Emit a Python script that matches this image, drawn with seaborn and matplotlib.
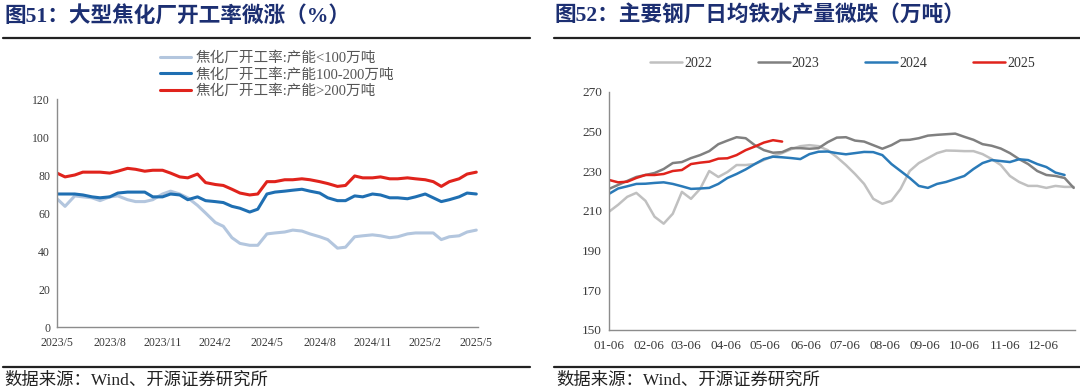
import pandas as pd
import numpy as np
import matplotlib
matplotlib.use("Agg")
import matplotlib.pyplot as plt
import seaborn as sns
from matplotlib.lines import Line2D

# ---- Daten links: Koksereien Auslastung (halbmonatlich, 2023/5 - 2025/5)
koks_daten = pd.date_range("2023-05-01", periods=49, freq="SMS")
klein = [67.5, 63.5, 69, 68.5, 68, 66.5, 68.5, 69, 67, 66, 66, 67, 70, 71.5, 70, 68,
         64, 60, 55, 53, 47, 44, 43, 43, 49, 49.5, 50, 51, 50.5, 49, 47.5, 46,
         41.5, 42, 47.5, 48, 48.5, 48, 47, 47.5, 49, 49.5, 49.5, 49.5, 46, 47.5, 48, 50, 51]
mittel = [70, 70, 70, 69.5, 68.5, 68, 68.5, 70.5, 71, 71, 71, 68.5, 68.5, 70, 69.5, 67,
          68.5, 66.5, 66, 65.5, 63.5, 62.5, 60.5, 62, 70, 71, 71.5, 72, 72.5, 71.5, 70.5, 68,
          66.5, 66.5, 69, 68.5, 70, 69.5, 68, 68, 67.5, 68.5, 70, 68, 66, 67, 68.5, 70.5, 70]
gross = [81, 79, 80, 81.5, 81.5, 81.5, 81, 82, 83.5, 83, 82, 82.5, 82.5, 81, 79, 78.5,
         80.5, 76, 75, 74.5, 72.5, 70.5, 69.5, 70, 76.5, 76.5, 77.5, 77.5, 78, 77.5, 76.5, 75.5,
         74, 74.5, 79.5, 78.5, 78.5, 79, 78, 78, 78.5, 78, 77.5, 76.5, 74, 76.5, 78, 80.5, 81.5]
koks_namen = ["焦化厂开工率:产能<100万吨", "焦化厂开工率:产能100-200万吨", "焦化厂开工率:产能>200万吨"]
koks_farben = ["#b3c6de", "#1f6fb2", "#e0231c"]
koks_ticks = pd.date_range("2023-05-01", "2025-05-01", freq="3MS")
koks_ticklabels = ["2023/5", "2023/8", "2023/11", "2024/2", "2024/5", "2024/8", "2024/11", "2025/2", "2025/5"]

# ---- Daten rechts: Roheisen pro Tag (woechentlich ab 01-06)
wochen = pd.date_range("2023-01-06", periods=52, freq="7D")
j2022 = [209.5, 213, 217, 219, 215, 207, 203.5, 208.5, 219.5, 216, 221, 230, 227, 229.5, 233, 233,
         233.5, 235.5, 237.5, 239, 241, 242.5, 243, 242.5, 240.5, 237, 233, 228.5, 223.5, 216, 213.5, 215,
         221, 230, 234, 236.5, 239, 240.3, 240.2, 240, 240, 238.5, 236, 233, 227.5, 224.5, 222.5, 222.5,
         221.5, 222.5, 222, 222]
j2023 = [221, 223, 225, 227, 228, 229, 231, 234, 234.5, 236.5, 238, 240, 243.5, 245.3, 247, 246.5,
         243, 240.5, 239.2, 239.5, 241.5, 241.5, 241.2, 241.5, 244.5, 246.8, 247, 245.3, 244.8, 243, 241.2, 243,
         245.5, 245.7, 246.5, 247.8, 248.2, 248.5, 248.8, 247.2, 245.7, 243.5, 242.7, 241.3, 239, 236, 233.5, 230,
         228, 227.5, 226.5, 221.5]
j2024 = [218.5, 221.2, 222.3, 223.5, 223.6, 224, 224.3, 223.5, 222.3, 221, 221.2, 221.5, 223.5, 226.5, 228.5, 230.8,
         233.5, 236, 237.2, 236.9, 236.5, 236, 238.5, 239.7, 239.8, 239, 238.4, 239, 239.6, 239.5, 238, 233.5,
         230, 226.5, 222.5, 221.5, 223.5, 224.5, 226, 227.5, 231, 234, 235.5, 235, 234.5, 235.9, 235.5, 233.5,
         232, 229.2, 228]
j2025 = [225.5, 224.3, 224.6, 226.5, 228, 228, 228.5, 230, 230.5, 233.5, 234.2, 234.7, 236.2, 236.4, 238,
         240.5, 242.3, 244.3, 245.5, 244.8]
jahre = ["2022", "2023", "2024", "2025"]
jahr_farben = ["#c0c0c0", "#808080", "#2a7ab8", "#e0231c"]
monat_ticks = pd.date_range("2023-01-01", periods=12, freq="MS") + pd.Timedelta(days=5)
monat_ticklabels = ["01-06", "02-06", "03-06", "04-06", "05-06", "06-06",
                    "07-06", "08-06", "09-06", "10-06", "11-06", "12-06"]

sns.set_theme(style="white")
plt.rcParams["font.family"] = ["Liberation Serif", "Noto Sans CJK SC"]

df_koks = pd.DataFrame({
    "Datum": np.tile(koks_daten, 3),
    "Wert": klein + mittel + gross,
    "Serie": np.repeat(koks_namen, len(koks_daten)),
})

reihen = [j2022, j2023, j2024, j2025]
df_eisen = pd.concat([
    pd.DataFrame({"Datum": wochen[:len(r)], "Wert": r, "Jahr": j}) for r, j in zip(reihen, jahre)
], ignore_index=True)

fig = plt.figure(figsize=(10.8, 3.92), dpi=100)
ax1 = fig.add_axes([57 / 1080, 1 - 327 / 392, 421 / 1080, 228 / 392])
ax2 = fig.add_axes([609 / 1080, 1 - 330 / 392, 466 / 1080, 238.5 / 392])

grau = "#8c8c8c"
textfarbe = "#3a3a3a"

# Viz links
sns.lineplot(data=df_koks, x="Datum", y="Wert", hue="Serie", palette=koks_farben,
             linewidth=2.2, ax=ax1)
ax1.set_ylim(0, 120)
ax1.set_yticks(range(0, 121, 20))
ax1.set_xlim(koks_ticks[0], koks_ticks[-1] + pd.Timedelta(days=3))
ax1.set_xticks(koks_ticks)
ax1.set_xticklabels(koks_ticklabels)
ax1.tick_params(labelsize=8.5, colors=textfarbe)
leg1 = ax1.legend(loc="upper left", bbox_to_anchor=(153 / 1080, 1 - 44 / 392),
                  bbox_transform=fig.transFigure, frameon=False, fontsize=10.5,
                  handlelength=2.1, handletextpad=0.3, labelspacing=0.2, borderpad=0)
for t in leg1.get_texts():
    t.set_color("#555555")

# Viz rechts
sns.lineplot(data=df_eisen, x="Datum", y="Wert", hue="Jahr", palette=jahr_farben,
             linewidth=1.8, ax=ax2)
ax2.set_ylim(150, 270)
ax2.set_yticks(range(150, 271, 20))
ax2.set_xlim(pd.Timestamp("2023-01-06"), pd.Timestamp("2023-12-30"))
ax2.set_xticks(monat_ticks)
ax2.set_xticklabels(monat_ticklabels)
ax2.tick_params(labelsize=9.5, colors=textfarbe)
leg2 = ax2.legend(loc="upper left", bbox_to_anchor=(643 / 1080, 1 - 50 / 392),
                  bbox_transform=fig.transFigure, frameon=False, fontsize=10, ncol=4,
                  handlelength=2.3, handletextpad=0.15, columnspacing=3.3, borderpad=0)
for t in leg2.get_texts():
    t.set_color("#333333")

for ax in (ax1, ax2):
    ax.set_xlabel("")
    ax.set_ylabel("")
    for s in ("top", "right"):
        ax.spines[s].set_visible(False)
    for s in ("left", "bottom"):
        ax.spines[s].set_color(grau)
        ax.spines[s].set_linewidth(1.0)
    ax.tick_params(axis="both", direction="out", length=3, width=0.8, color=grau, pad=2)
    ax.tick_params(axis="x", pad=4)

# Titel, Linien, Quellen
titelfarbe = "#1c2f72"
fig.text(0.004, 1 - 16 / 392, "图51：大型焦化厂开工率微涨（%）", fontsize=15.6, weight="bold",
         color=titelfarbe, va="center", ha="left")
fig.text(554 / 1080, 1 - 16 / 392, "图52：主要钢厂日均铁水产量微跌（万吨）", fontsize=15.6, weight="bold",
         color=titelfarbe, va="center", ha="left")
for x0, x1 in ((3, 530), (554, 1080)):
    fig.add_artist(Line2D([x0 / 1080, x1 / 1080], [1 - 38 / 392] * 2, transform=fig.transFigure,
                          color="#222222", lw=1.6))
    fig.add_artist(Line2D([x0 / 1080, x1 / 1080], [1 - 367 / 392] * 2, transform=fig.transFigure,
                          color="#222222", lw=1.6))
fig.text(4 / 1080, 1 - 381 / 392, "数据来源：Wind、开源证券研究所", fontsize=12.5,
         color="#222222", va="center", ha="left")
fig.text(556 / 1080, 1 - 381 / 392, "数据来源：Wind、开源证券研究所", fontsize=12.5,
         color="#222222", va="center", ha="left")

plt.savefig("out.png", dpi=100)
